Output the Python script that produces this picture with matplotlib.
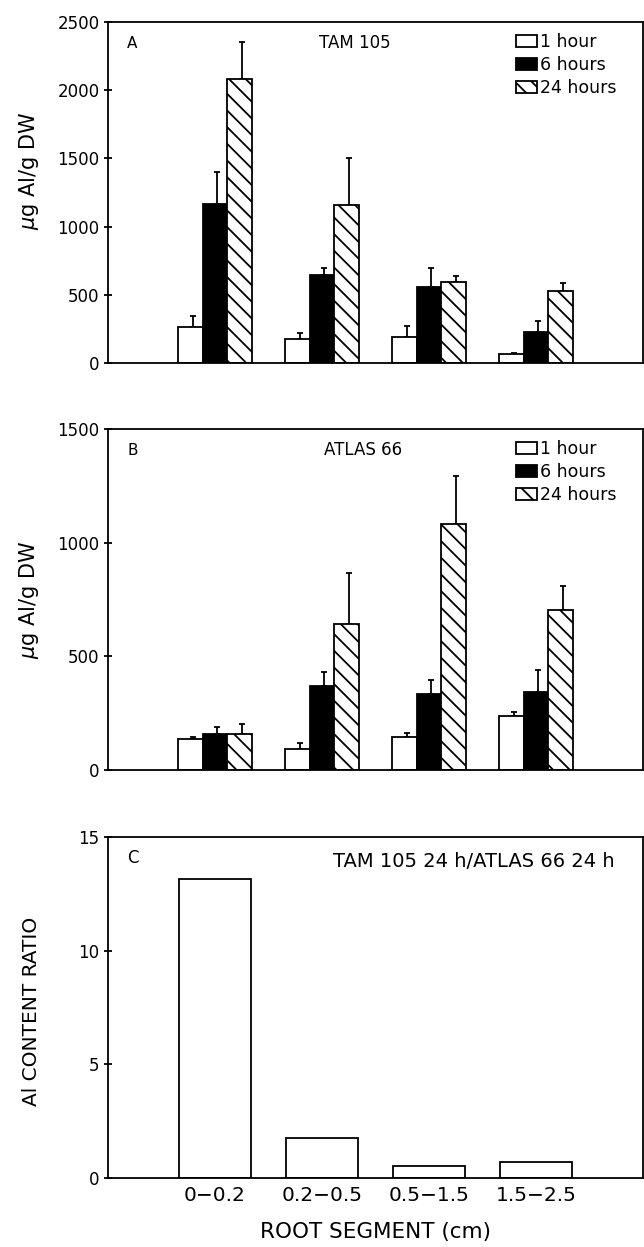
import numpy as np
import matplotlib
matplotlib.use('Agg')
import matplotlib.pyplot as plt
from matplotlib.patches import Patch

plt.rcParams['font.family'] = ['DejaVu Sans']
plt.rcParams['hatch.linewidth'] = 1.3
plt.rcParams['axes.linewidth'] = 1.3

segments = ['0\u22120.2', '0.2\u22120.5', '0.5\u22121.5', '1.5\u22122.5']
times = ['1 hour', '6 hours', '24 hours']

# TAM 105 (panel A): means and top of error bar
tam_mean = [[262, 174, 188, 68],
            [1169, 648, 560, 227],
            [2083, 1156, 594, 528]]
tam_top = [[342, 220, 274, 76],
           [1401, 697, 697, 310],
           [2355, 1506, 641, 584]]

# ATLAS 66 (panel B)
atlas_mean = [[138, 92, 147, 238],
              [157, 371, 335, 344],
              [157, 642, 1081, 705]]
atlas_top = [[147, 117, 164, 253],
             [188, 433, 396, 441],
             [203, 866, 1295, 808]]

# ratio (panel C)
ratio = [13.17, 1.76, 0.51, 0.70]

fills = ['white', 'black', 'white']
hatches = [None, None, '\\\\']

W, H = 644, 1247
fig = plt.figure(figsize=(W / 100, H / 100), dpi=100)


def make_axes(top_px, bot_px):
    left, right = 108, 643
    return fig.add_axes([left / W, 1 - bot_px / H, (right - left) / W,
                         (bot_px - top_px) / H])


def style_axes(ax, ymax, step):
    ax.set_xlim(0, 5)
    ax.set_ylim(0, ymax)
    ax.set_yticks(np.arange(0, ymax + 1, step))
    ax.tick_params(axis='y', direction='inout', length=6, width=1.3,
                   labelsize=12, pad=3)
    ax.tick_params(axis='x', length=0)


def grouped(ax, means, tops, letter, title, title_x, ylab_y):
    x = np.arange(1, 5)
    bw = 0.23
    for i in range(3):
        pos = x + (i - 1) * bw
        m = np.array(means[i])
        t = np.array(tops[i])
        ax.bar(pos, m, bw, color=fills[i], edgecolor='black',
               hatch=hatches[i], linewidth=1.3, zorder=2)
        ax.errorbar(pos + 0.02, m, yerr=[np.zeros(4), t - m], fmt='none',
                    ecolor='black', elinewidth=1.3, capsize=2.5,
                    capthick=1.3, zorder=1)
    ax.set_xticks([])
    ax.set_ylabel(r'$\mu$g Al/g DW', fontsize=15)
    ax.yaxis.set_label_coords(-0.125, ylab_y)
    ax.text(0.036, 0.937, letter, transform=ax.transAxes, fontsize=11,
            va='center')
    ax.text(title_x, 0.937, title, transform=ax.transAxes, fontsize=12,
            va='center', ha='center')
    handles = [Patch(facecolor=fills[i], edgecolor='black', hatch=hatches[i],
                     linewidth=1.3) for i in range(3)]
    ax.legend(handles, times, loc='upper left', bbox_to_anchor=(0.763, 0.968),
              frameon=False, fontsize=12.5, handlelength=1.2,
              handleheight=0.7, handletextpad=0.15, labelspacing=0.3,
              borderaxespad=0, borderpad=0)


axA = make_axes(22, 363)
style_axes(axA, 2500, 500)
grouped(axA, tam_mean, tam_top, 'A', 'TAM 105', 0.462, 0.565)

axB = make_axes(429, 770)
style_axes(axB, 1500, 500)
grouped(axB, atlas_mean, atlas_top, 'B', 'ATLAS 66', 0.477, 0.5)

axC = make_axes(837, 1178)
axC.bar(np.arange(1, 5), ratio, 0.68, color='white', edgecolor='black',
        linewidth=1.3)
style_axes(axC, 15, 5)
axC.set_xticks(np.arange(1, 5))
axC.set_xticklabels(segments, fontsize=14.5)
axC.tick_params(axis='x', pad=6)
axC.set_ylabel('Al CONTENT RATIO', fontsize=14.5)
axC.yaxis.set_label_coords(-0.125, 0.49)
axC.set_xlabel('ROOT SEGMENT (cm)', fontsize=15.5, labelpad=12)
axC.text(0.036, 0.937, 'C', transform=axC.transAxes, fontsize=12,
         va='center')
axC.text(0.42, 0.927, 'TAM 105 24 h/ATLAS 66 24 h', transform=axC.transAxes,
         fontsize=14, va='center', ha='left')

fig.savefig('out.png', dpi=100)
